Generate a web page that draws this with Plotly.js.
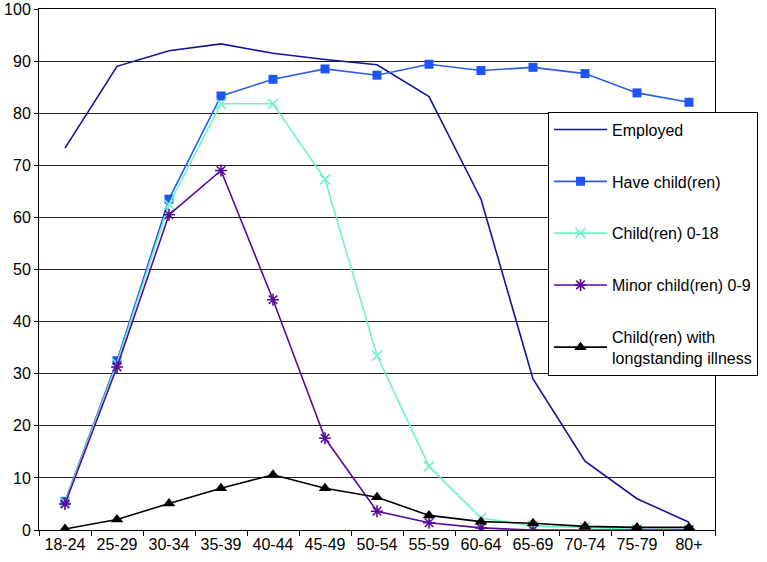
<!DOCTYPE html>
<html>
<head>
<meta charset="utf-8">
<script src="https://cdn.plot.ly/plotly-3.0.1.min.js"></script>
<style>html,body{margin:0;padding:0;background:#fff;}#chart{width:767px;height:562px;}</style>
</head>
<body>
<div id="chart"></div>
<script>
var ageGroups = ["18-24","25-29","30-34","35-39","40-44","45-49","50-54","55-59","60-64","65-69","70-74","75-79","80+"];
var employed = [73.3, 89.0, 92.0, 93.3, 91.5, 90.3, 89.3, 83.2, 63.5, 29.0, 13.2, 6.0, 1.5];
var haveChildren = [5.5, 32.5, 63.5, 83.3, 86.5, 88.5, 87.3, 89.4, 88.2, 88.8, 87.6, 83.9, 82.1];
var children018 = [5.3, 32.0, 62.5, 81.8, 81.8, 67.3, 33.5, 12.2, 2.3, 0.8, 0.5, 0.2, 0.1];
var minor09 = [5.0, 31.3, 60.5, 69.0, 44.2, 17.6, 3.6, 1.4, 0.4, 0.0, 0.0, 0.0, 0.0];
var illness = [0.2, 2.0, 5.1, 8.0, 10.6, 8.0, 6.3, 2.8, 1.6, 1.3, 0.7, 0.5, 0.5];
var seriesNames = ["Employed","Have child(ren)","Child(ren) 0-18","Minor child(ren) 0-9","Child(ren) with<br>longstanding illness"];

var traces = [
  {x: ageGroups, y: employed, name: seriesNames[0], mode: "lines",
   line: {color: "#14149a", width: 1.6}, legendgroup: "a"},
  {x: ageGroups, y: haveChildren, name: seriesNames[1], mode: "lines+markers",
   line: {color: "#2a5ee8", width: 1.6}, marker: {symbol: "square", size: 9, color: "#1f55f5"}, legendgroup: "b"},
  {x: ageGroups, y: children018, name: seriesNames[2], mode: "lines+markers",
   line: {color: "#6ff2c4", width: 1.6}, marker: {symbol: "x-thin-open", size: 10, color: "#6ff2c4", line: {color: "#6ff2c4", width: 1.6}}, legendgroup: "c"},
  {x: ageGroups, y: minor09, name: seriesNames[3], mode: "lines+markers",
   line: {color: "#5a0a9a", width: 1.6}, marker: {symbol: "asterisk-open", size: 10, color: "#5a0a9a", line: {color: "#5a0a9a", width: 1.6}}, legendgroup: "d"},
  {x: ageGroups, y: illness, name: seriesNames[4], mode: "lines+markers",
   line: {color: "#000000", width: 1.6}, marker: {symbol: "triangle-up", size: 11, color: "#000000"}, legendgroup: "e"}
];

var layout = {
  width: 767, height: 562,
  margin: {l: 39, r: 52, t: 9, b: 32},
  paper_bgcolor: "#ffffff", plot_bgcolor: "#ffffff",
  font: {family: "Liberation Sans, Arial, sans-serif", size: 16, color: "#000"},
  showlegend: true,
  legend: {x: 0.753, y: 0.803, xanchor: "left", yanchor: "top",
    bgcolor: "#ffffff", bordercolor: "#000000", borderwidth: 1,
    traceorder: "grouped", tracegroupgap: 28, font: {size: 16},
    itemwidth: 53},
  xaxis: {type: "category", range: [-0.5, 12.5], tickson: "boundaries",
    ticks: "outside", ticklen: 5, tickcolor: "#000", showgrid: false,
    showline: true, linecolor: "#000", linewidth: 1, mirror: true,
    tickfont: {size: 16}, fixedrange: true},
  yaxis: {range: [0, 100], dtick: 10, ticks: "outside", ticklen: 4, tickcolor: "#000",
    showgrid: true, gridcolor: "#222", gridwidth: 1, zeroline: false,
    showline: true, linecolor: "#000", linewidth: 1, mirror: true,
    tickfont: {size: 16}, fixedrange: true}
};

Plotly.newPlot("chart", traces, layout, {displayModeBar: false, staticPlot: true});
</script>
</body>
</html>
